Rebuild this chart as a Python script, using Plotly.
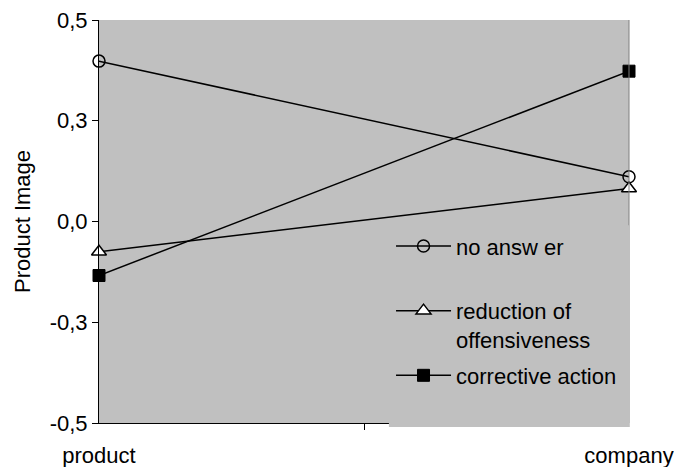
import plotly.graph_objects as go

categories = ["product", "company"]
no_answer = [0.398, 0.111]
reduction = [-0.075, 0.082]
corrective = [-0.134, 0.373]

y_tickvals = [-0.5, -0.25, 0.0, 0.25, 0.5]
y_ticktext = ["-0,5", "-0,3", "0,0", "0,3", "0,5"]

series_names = ["no answ er<br> ", "reduction of<br>offensiveness", "corrective action"]

FONT = "Liberation Sans, Arial, sans-serif"
FS = 22

fig = go.Figure()
fig.add_trace(go.Scatter(
    x=categories, y=no_answer, name=series_names[0], mode="lines+markers",
    legendgroup="a", cliponaxis=False,
    line=dict(color="black", width=1.5),
    marker=dict(symbol="circle-open", size=12, color="black", line=dict(width=1.5, color="black")),
))
fig.add_trace(go.Scatter(
    x=categories, y=reduction, name=series_names[1], mode="lines+markers",
    legendgroup="b", cliponaxis=False,
    line=dict(color="black", width=1.5),
    marker=dict(symbol="triangle-up", size=13, color="white", line=dict(width=1.5, color="black")),
))
fig.add_trace(go.Scatter(
    x=categories, y=corrective, name=series_names[2], mode="lines+markers",
    legendgroup="c", cliponaxis=False,
    line=dict(color="black", width=1.5),
    marker=dict(symbol="square", size=12, color="black", line=dict(width=1, color="black")),
))

fig.update_layout(
    width=674, height=467,
    margin=dict(l=99, r=45, t=20, b=44),
    paper_bgcolor="white",
    plot_bgcolor="#c0c0c0",
    font=dict(family=FONT, size=FS, color="black"),
    showlegend=True,
    legend=dict(
        x=0.551, y=0.491, xanchor="left", yanchor="top",
        bgcolor="rgba(0,0,0,0)", borderwidth=0,
        font=dict(family=FONT, size=FS, color="black"),
        itemwidth=55, valign="top", tracegroupgap=4.5,
        traceorder="grouped",
    ),
    xaxis=dict(
        type="category", range=[0, 1], automargin=False,
        showgrid=False, zeroline=False,
        showline=True, linecolor="black", linewidth=1,
        ticks="outside", ticklen=6, tickcolor="black",
        tickson="boundaries",
        ticklabelstandoff=13,
    ),
    yaxis=dict(
        range=[-0.5, 0.5], tickvals=y_tickvals, ticktext=y_ticktext,
        automargin=False,
        showgrid=False, zeroline=False,
        showline=True, linecolor="black", linewidth=1,
        ticks="outside", ticklen=6, tickcolor="black",
        title=dict(text="Product Image", standoff=12, font=dict(family=FONT, size=FS)),
    ),
    shapes=[
        dict(type="line", xref="paper", yref="paper", x0=1, x1=1, y0=0, y1=1,
             line=dict(color="#808080", width=1), layer="above"),
        dict(type="rect", xref="paper", yref="paper", x0=0.547, x1=1.0015, y0=-0.01, y1=0.491,
             fillcolor="#c0c0c0", line=dict(width=0), layer="above"),
    ],
)

fig.write_html(
    "out.html",
    config={"displayModeBar": False},
    post_script="document.body.style.margin='0';document.body.style.padding='0';document.body.style.overflow='hidden';",
)
